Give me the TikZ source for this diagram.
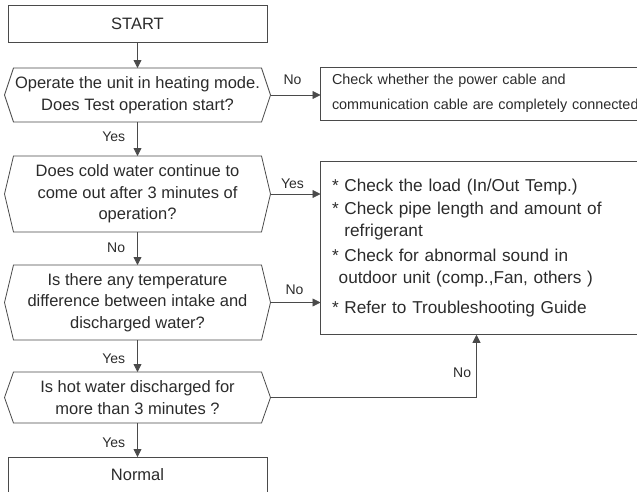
\documentclass[tikz,border=0pt]{standalone}
\usepackage{fontspec}
\setmainfont{Liberation Sans}
\usepackage{tikz}
\usetikzlibrary{arrows.meta,positioning,calc}
\definecolor{linea}{HTML}{4A4A4A}
\definecolor{texto}{HTML}{2B2B2B}

\begin{document}
\begin{tikzpicture}[
  x=1pt,y=1pt,
  caja/.style={draw=linea,line width=0.8pt,minimum width=259pt,minimum height=37pt,
               inner sep=0pt,outer sep=0pt,text=texto,font=\fontsize{16.5}{21}\selectfont},
  pregunta/.style={minimum width=266pt,inner sep=0pt,outer sep=0pt,align=center,
                   text=texto,font=\fontsize{16.5}{21.5}\selectfont},
  aviso/.style={draw=linea,line width=0.8pt,inner xsep=11.5pt,inner ysep=0pt,
                outer sep=0pt,text width=308pt,align=left,text=texto},
  flecha/.style={-{Triangle[length=8pt,width=8pt]},draw=linea,line width=0.8pt},
  etiqueta/.style={font=\fontsize{14}{16}\selectfont,text=texto,inner sep=1pt}
]
\clip (0,0) rectangle (637,-491);
\node[caja] (start) at (137.5,-23.5) {START};
\node[pregunta,minimum height=54pt,below=26pt of start] (q1) {Operate the unit in heating mode.\\Does Test operation start?};
\node[pregunta,minimum height=76pt,below=34pt of q1] (q2) {Does cold water continue to\\come out after 3 minutes of\\operation?};
\node[pregunta,minimum height=75pt,below=33pt of q2] (q3) {Is there any temperature\\difference between intake and\\discharged water?};
\node[pregunta,minimum height=51pt,below=32pt of q3] (q4) {Is hot water discharged for\\more than 3 minutes ?};
\node[caja,minimum height=36pt,below=34pt of q4] (normal) {Normal};
\node[aviso,minimum height=53pt,right=50pt of q1,yshift=1.5pt,
      font=\fontsize{14.4}{25}\selectfont] (cables) {Check whether the power cable and\\communication cable are completely connected};
\node[aviso,minimum height=173pt,anchor=west,font=\fontsize{17.2}{22}\selectfont] (acciones)
  at ($(q2.east)!0.5!(q3.east)+(50,0)$)
  {* Check the load (In/Out Temp.)\\[1pt]
   * Check pipe length and amount of\\
   \phantom{* }refrigerant\\[3pt]
   * Check for abnormal sound in\\
   \phantom{*}outdoor unit (comp.,Fan, others )\\[8pt]
   * Refer to Troubleshooting Guide};
% contorno de las preguntas
\foreach \n in {q1,q2,q3,q4}
  \draw[linea,line width=0.8pt] (\n.west) -- ([xshift=9pt]\n.north west) -- ([xshift=-9pt]\n.north east)
    -- (\n.east) -- ([xshift=-9pt]\n.south east) -- ([xshift=9pt]\n.south west) -- cycle;
\draw[flecha] (start) -- (q1);
\draw[flecha] (q1) -- node[etiqueta,left=11pt,pos=0.43] {Yes} (q2);
\draw[flecha] (q2) -- node[etiqueta,left=11pt,pos=0.48] {No} (q3);
\draw[flecha] (q3) -- node[etiqueta,left=11pt,pos=0.58] {Yes} (q4);
\draw[flecha] (q4) -- node[etiqueta,left=11pt,pos=0.57] {Yes} (normal);
\draw[flecha] (q1.east) -- node[etiqueta,above=9pt,pos=0.44] {No} (q1.east -| cables.west);
\draw[flecha] (q2.east) -- node[etiqueta,above=4pt,pos=0.44] {Yes} (q2.east -| acciones.west);
\draw[flecha] (q3.east) -- node[etiqueta,above=6pt,pos=0.48] {No} (q3.east -| acciones.west);
\draw[flecha] (q4.east) -| node[etiqueta,left=4pt,pos=0.7] {No} ([xshift=-9.5pt]acciones.south);
\end{tikzpicture}
\end{document}
